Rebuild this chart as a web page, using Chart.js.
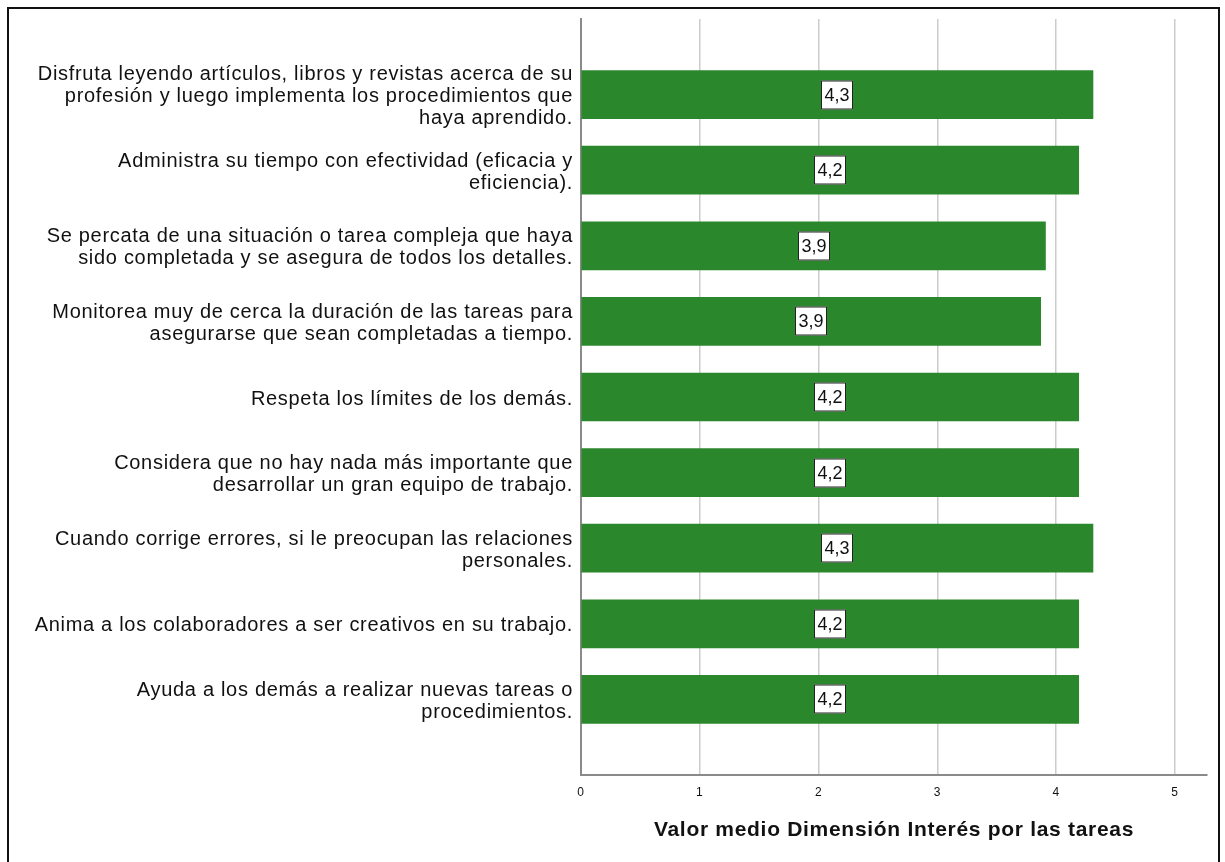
<!DOCTYPE html>
<html lang="es">
<head>
    <meta charset="UTF-8">
    <title>Valor medio Dimensión Interés por las tareas</title>
    <script src="https://cdn.jsdelivr.net/npm/chart.js"></script>
    <style>
        body {
            margin: 0;
            background-color: #ffffff;
        }
        #wrap {
            width: 1225px;
            height: 862px;
        }
    </style>
</head>
<body>
    <div id="wrap">
        <canvas id="chart" width="1225" height="862"></canvas>
    </div>
    <script>
        // categorías (cada una en sus líneas, como en la imagen)
        const categorias = [
            ['Disfruta leyendo artículos, libros y revistas acerca de su', 'profesión y luego implementa los procedimientos que', 'haya aprendido.'],
            ['Administra su tiempo con efectividad (eficacia y', 'eficiencia).'],
            ['Se percata de una situación o tarea compleja que haya', 'sido completada y se asegura de todos los detalles.'],
            ['Monitorea muy de cerca la duración de las tareas para', 'asegurarse que sean completadas a tiempo.'],
            'Respeta los límites de los demás.',
            ['Considera que no hay nada más importante que', 'desarrollar un gran equipo de trabajo.'],
            ['Cuando corrige errores, si le preocupan las relaciones', 'personales.'],
            'Anima a los colaboradores a ser creativos en su trabajo.',
            ['Ayuda a los demás a realizar nuevas tareas o', 'procedimientos.']
        ];
        const valores = [4.31, 4.19, 3.91, 3.87, 4.19, 4.19, 4.31, 4.19, 4.19];
        const ticksX = [0, 1, 2, 3, 4, 5];
        const tituloX = 'Valor medio Dimensión Interés por las tareas';

        // un hueco vacío arriba y abajo, como en el gráfico original
        const etiquetas = [''].concat(categorias, ['']);
        const datos = [null].concat(valores, [null]);

        const FUENTE = '"Liberation Sans", Arial, sans-serif';

        // el texto del original es algo más ancho: un poco de espaciado en los ejes
        const espaciadoPlugin = {
            id: 'espaciado',
            beforeDraw(chart) {
                chart.ctx.letterSpacing = '0.7px';
            },
            beforeDatasetsDraw(chart) {
                chart.ctx.letterSpacing = '0px';
            }
        };

        const marcoPlugin = {
            id: 'marco',
            afterDraw(chart) {
                const ctx = chart.ctx;
                ctx.save();
                ctx.strokeStyle = '#111';
                ctx.lineWidth = 2;
                ctx.strokeRect(8, 8, 1211, 900);
                ctx.restore();
            }
        };

        const etiquetasPlugin = {
            id: 'etiquetasBarras',
            afterDatasetsDraw(chart) {
                const ctx = chart.ctx;
                const meta = chart.getDatasetMeta(0);
                ctx.save();
                ctx.letterSpacing = '0px';
                ctx.font = '18px ' + FUENTE;
                ctx.textAlign = 'center';
                ctx.textBaseline = 'middle';
                meta.data.forEach((bar, i) => {
                    const v = datos[i];
                    if (v === null) return;
                    const txt = v.toFixed(1).replace('.', ',');
                    const cx = Math.round((bar.base + bar.x) / 2);
                    const cy = Math.round(bar.y);
                    const w = 32, h = 29;
                    ctx.fillStyle = '#ffffff';
                    ctx.fillRect(cx - w / 2, cy - h / 2, w, h);
                    ctx.strokeStyle = '#222';
                    ctx.lineWidth = 1;
                    ctx.strokeRect(cx - w / 2 + 0.5, cy - h / 2 + 0.5, w - 1, h - 1);
                    ctx.fillStyle = '#111';
                    ctx.fillText(txt, cx, cy + 1);
                });
                ctx.restore();
            }
        };

        new Chart(document.getElementById('chart'), {
            type: 'bar',
            data: {
                labels: etiquetas,
                datasets: [{
                    data: datos,
                    backgroundColor: '#2b872b',
                    borderWidth: 0,
                    barThickness: 48
                }]
            },
            options: {
                indexAxis: 'y',
                responsive: false,
                animation: false,
                layout: {
                    padding: { left: 0, right: 18, top: 17, bottom: 0 }
                },
                plugins: {
                    legend: { display: false },
                    tooltip: { enabled: false }
                },
                scales: {
                    x: {
                        type: 'linear',
                        min: 0,
                        max: 5.27,
                        afterBuildTicks: s => {
                            s.ticks = ticksX.map(v => ({ value: v }));
                        },
                        afterFit: s => { s.height = 87; },
                        ticks: {
                            color: '#111',
                            padding: 10,
                            maxRotation: 0,
                            font: { family: FUENTE, size: 12 }
                        },
                        grid: {
                            drawTicks: false,
                            color: ctx => ctx.tick && ctx.tick.value === 0 ? 'rgba(0,0,0,0)' : '#cccccc',
                            lineWidth: 1.5
                        },
                        border: { display: true, color: '#8a8a8a', width: 2 },
                        title: {
                            display: true,
                            text: tituloX,
                            color: '#111',
                            font: { family: FUENTE, size: 21, weight: 'bold' },
                            padding: { top: 0, bottom: 19 }
                        }
                    },
                    y: {
                        type: 'category',
                        offset: false,
                        afterFit: s => { s.width = 581; },
                        ticks: {
                            color: '#111',
                            padding: 8,
                            labelOffset: 2,
                            autoSkip: false,
                            font: { family: FUENTE, size: 20, lineHeight: 1.1 }
                        },
                        grid: { display: false, drawTicks: false },
                        border: { display: true, color: '#8a8a8a', width: 2 }
                    }
                }
            },
            plugins: [espaciadoPlugin, marcoPlugin, etiquetasPlugin]
        });
    </script>
</body>
</html>
